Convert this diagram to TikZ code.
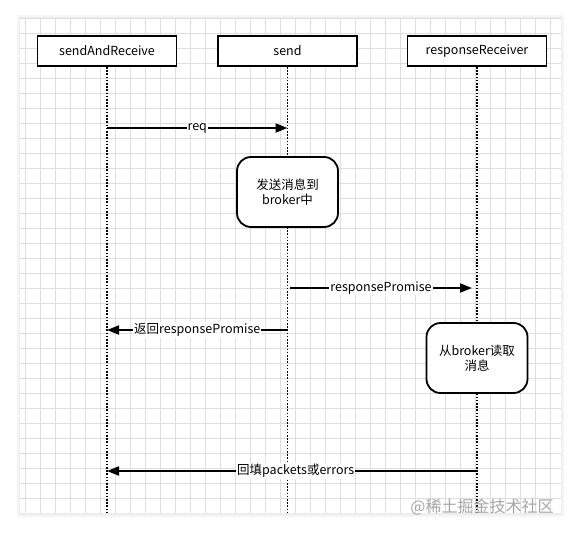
\documentclass[tikz,border=0pt]{standalone}
\usepackage{fontspec}
\setmainfont{Noto Sans CJK SC}
\usetikzlibrary{arrows.meta, positioning}

\begin{document}
\begin{tikzpicture}[x=1pt, y=-1pt,
  font=\fontsize{12.5}{15}\selectfont,
  actor/.style={draw, line width=1.8pt, minimum width=139pt, minimum height=30pt, inner sep=0pt, fill=white},
  task/.style={draw, line width=1.8pt, rounded corners=14pt, minimum width=101pt, minimum height=70pt, align=center, fill=white},
  life/.style={line width=1.8pt, dash pattern=on 1.6pt off 1.6pt},
  msg/.style={line width=1.8pt, -{Triangle[length=12pt, width=9pt]}},
  lbl/.style={fill=white, inner sep=1pt}]
\useasboundingbox (0,0) rectangle (579,533);
% panel with grid
\fill[black!4] (17,15) rectangle (564,517);
\fill[black!7] (19,17) rectangle (562,515);
\fill[white] (20,18) rectangle (561,513);
\foreach \x in {25.7,40.7,...,561} \draw[black!13, line width=0.6pt] (\x,18) -- (\x,513);
\foreach \y in {18.3,33.3,...,513} \draw[black!13, line width=0.6pt] (20,\y) -- (561,\y);

% participants
\node[actor] (sar) at (107,51) {sendAndReceive};
\node[actor] (send) at (287.5,51) {send};
\node[actor] (recv) at (477,51) {responseReceiver};
\coordinate (sarEnd) at (107,513);
\coordinate (sendEnd) at (287.5,513);
\coordinate (recvEnd) at (477,513);
\draw[life] (sar) -- (sarEnd);
\draw[life] (send) -- (sendEnd);
\draw[life] (recv) -- (recvEnd);

% actions
\node[task] (push) at (287.5,192) {发送消息到\\broker中};
\node[task] (pull) at (477,358) {从broker读取\\消息};

% messages
\coordinate (reqA) at (107,128);
\coordinate (reqB) at (287.5,128);
\draw[msg] (reqA) -- (reqB) node[midway, lbl] {req};
\coordinate (prA) at (290,288);
\coordinate (prB) at (472,288);
\draw[msg] (prA) -- (prB) node[midway, lbl] {responsePromise};
\coordinate (retA) at (287.5,330);
\coordinate (retB) at (107,330);
\draw[msg] (retA) -- (retB) node[pos=0.5, lbl] {返回responsePromise};
\coordinate (fillA) at (477,471);
\coordinate (fillB) at (107,471);
\draw[msg] (fillA) -- (fillB) node[pos=0.49, lbl] {回填packets或errors};

% watermark
\node[text=black!35, font=\fontsize{16}{18}\selectfont] (mark) at (482,507) {@稀土掘金技术社区};
\end{tikzpicture}
\end{document}
